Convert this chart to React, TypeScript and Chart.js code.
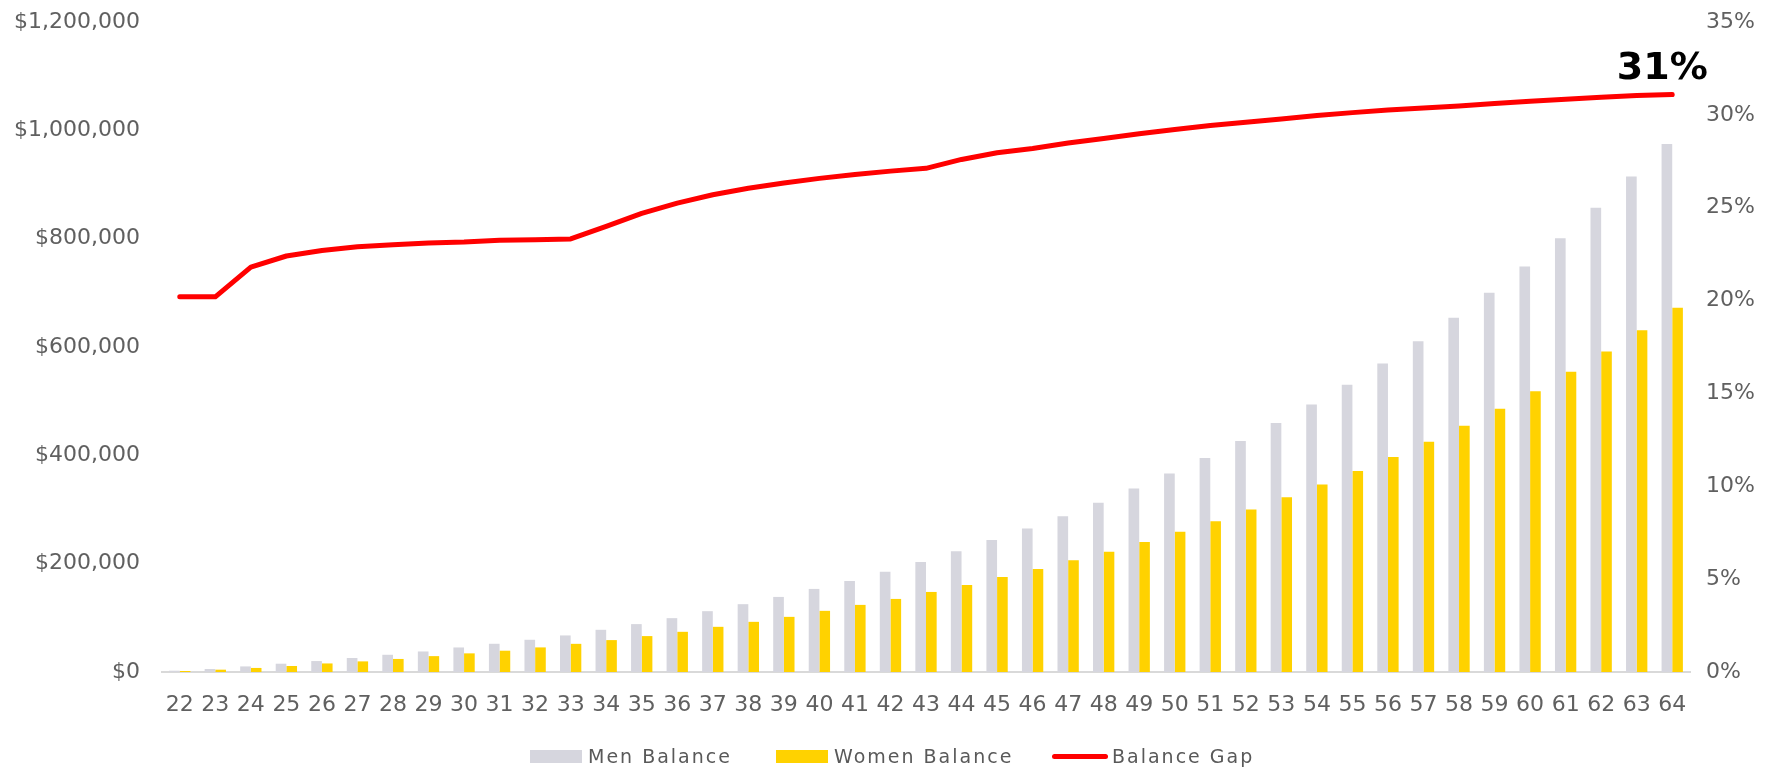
import React, { useEffect, useRef } from "react";
import { Chart, registerables } from "chart.js";

Chart.register(...registerables);

// Ages along the x axis
const ages: string[] = [
  "22", "23", "24", "25", "26", "27", "28", "29", "30", "31", "32",
  "33", "34", "35", "36", "37", "38", "39", "40", "41", "42", "43",
  "44", "45", "46", "47", "48", "49", "50", "51", "52", "53", "54",
  "55", "56", "57", "58", "59", "60", "61", "62", "63", "64",
];

// Average retirement balance, men ($)
const menBalance: number[] = [
  2400, 5500, 10300, 15300, 20200, 25800, 31800, 37900, 45300, 52100, 59500,
  67500, 77900, 88400, 99400, 112300, 125200, 138600, 153400, 168100, 185200, 203100,
  222800, 243600, 265100, 287700, 312300, 338700, 366400, 395100, 426400, 459500, 493900,
  530200, 569400, 610500, 654100, 700100, 748600, 801000, 857000, 915000, 975000,
];

// Average retirement balance, women ($)
const womenBalance: number[] = [
  1900, 4300, 7500, 11100, 15800, 19600, 24100, 29300, 34400, 39300, 45400,
  52000, 58900, 66300, 74200, 83400, 92600, 101800, 112900, 123900, 134900, 147800,
  160700, 175400, 190200, 206200, 222000, 239900, 258900, 278500, 300100, 322700, 346100,
  371200, 396900, 425300, 454700, 486000, 518400, 554100, 591500, 630700, 672500,
];

// Gap between the two balances (%)
const balanceGap: number[] = [
  20.2, 20.2, 21.8, 22.4, 22.7, 22.9, 23.0, 23.1, 23.15, 23.25, 23.28,
  23.32, 24.0, 24.7, 25.25, 25.7, 26.05, 26.33, 26.58, 26.79, 26.97, 27.12,
  27.6, 27.96, 28.19, 28.48, 28.73, 28.98, 29.21, 29.43, 29.6, 29.78, 29.96,
  30.12, 30.26, 30.37, 30.48, 30.61, 30.73, 30.84, 30.95, 31.04, 31.09,
];

const seriesNames = ["Men Balance", "Women Balance", "Balance Gap"];

const MEN_COLOR = "#d6d6de";
const WOMEN_COLOR = "#ffd200";
const GAP_COLOR = "#ff0000";
const TEXT_COLOR = "#606060";
const TICK_FONT = { family: "'DejaVu Sans', sans-serif", size: 22 };

// Writes the final gap value above the end of the line
const endLabelPlugin = {
  id: "endLabel",
  afterDatasetsDraw(chart: any) {
    const meta = chart.getDatasetMeta(2);
    const last = meta.data[meta.data.length - 1];
    if (!last) return;
    const value = balanceGap[balanceGap.length - 1];
    const ctx = chart.ctx;
    ctx.save();
    ctx.font = "bold 38px 'DejaVu Sans', sans-serif";
    ctx.fillStyle = "#000000";
    ctx.textAlign = "center";
    ctx.textBaseline = "alphabetic";
    ctx.fillText(`${Math.round(value)}%`, last.x - 10, last.y - 16);
    ctx.restore();
  },
};

// Fixed axis widths, no label overhang padding, so the plot area stays put
const fixWidth = (w: number) => (scale: any) => {
  scale.width = w;
  scale.paddingTop = 0;
  scale.paddingBottom = 0;
};

export default function App() {
  const canvasRef = useRef<HTMLCanvasElement | null>(null);

  useEffect(() => {
    document.body.style.margin = "0";
    const canvas = canvasRef.current;
    if (!canvas) return;

    const chart = new Chart(canvas, {
      type: "bar",
      data: {
        labels: ages,
        datasets: [
          {
            type: "bar",
            label: seriesNames[0],
            data: menBalance,
            backgroundColor: MEN_COLOR,
            yAxisID: "y",
            order: 1,
            barPercentage: 1,
            categoryPercentage: 0.6,
          },
          {
            type: "bar",
            label: seriesNames[1],
            data: womenBalance,
            backgroundColor: WOMEN_COLOR,
            yAxisID: "y",
            order: 1,
            barPercentage: 1,
            categoryPercentage: 0.6,
          },
          {
            type: "line",
            label: seriesNames[2],
            data: balanceGap,
            borderColor: GAP_COLOR,
            backgroundColor: GAP_COLOR,
            borderWidth: 5,
            borderCapStyle: "round",
            borderJoinStyle: "round",
            pointRadius: 0,
            tension: 0,
            yAxisID: "y1",
            order: 0,
          } as any,
        ],
      },
      options: {
        responsive: false,
        animation: false,
        devicePixelRatio: 1,
        layout: { padding: { top: 22, left: 0, right: 0, bottom: 0 } },
        plugins: {
          legend: { display: false },
          tooltip: { enabled: false },
        },
        scales: {
          x: {
            grid: { display: false, drawTicks: false },
            border: { display: true, color: "#d9d9d9", width: 2 },
            ticks: {
              color: TEXT_COLOR,
              font: TICK_FONT,
              autoSkip: false,
              maxRotation: 0,
              padding: 20,
            },
            afterFit(scale: any) {
              scale.height = 97;
            },
          },
          y: {
            position: "left",
            min: 0,
            max: 1200000,
            grid: { display: false, drawTicks: false },
            border: { display: false },
            ticks: {
              stepSize: 200000,
              color: TEXT_COLOR,
              font: TICK_FONT,
              padding: 22,
              callback: (v: any) => "$" + Number(v).toLocaleString("en-US"),
            },
            afterFit: fixWidth(162),
          },
          y1: {
            position: "right",
            min: 0,
            max: 35,
            grid: { display: false, drawTicks: false },
            border: { display: false },
            ticks: {
              stepSize: 5,
              color: TEXT_COLOR,
              font: TICK_FONT,
              padding: 16,
              callback: (v: any) => `${v}%`,
            },
            afterFit: fixWidth(97),
          },
        },
      },
      plugins: [endLabelPlugin],
    });

    return () => chart.destroy();
  }, []);

  const legendText: React.CSSProperties = {
    fontFamily: "'DejaVu Sans', sans-serif",
    fontSize: 19,
    lineHeight: "19px",
    letterSpacing: "2px",
    color: "#595959",
    whiteSpace: "nowrap",
  };
  const item = (left: number): React.CSSProperties => ({
    position: "absolute",
    left,
    top: 747,
    height: 19,
    display: "flex",
    alignItems: "center",
  });

  return (
    <div style={{ position: "relative", width: 1787, height: 769, overflow: "hidden", background: "#ffffff" }}>
      <canvas ref={canvasRef} width={1787} height={769} style={{ display: "block", width: 1787, height: 769 }} />
      <div style={item(530)}>
        <span style={{ width: 52, height: 13, background: MEN_COLOR, display: "inline-block", marginRight: 6 }} />
        <span style={legendText}>{seriesNames[0]}</span>
      </div>
      <div style={item(776)}>
        <span style={{ width: 52, height: 13, background: WOMEN_COLOR, display: "inline-block", marginRight: 6 }} />
        <span style={legendText}>{seriesNames[1]}</span>
      </div>
      <div style={item(1052)}>
        <span style={{ width: 56, height: 5, borderRadius: 3, background: GAP_COLOR, display: "inline-block", marginRight: 4 }} />
        <span style={legendText}>{seriesNames[2]}</span>
      </div>
    </div>
  );
}
